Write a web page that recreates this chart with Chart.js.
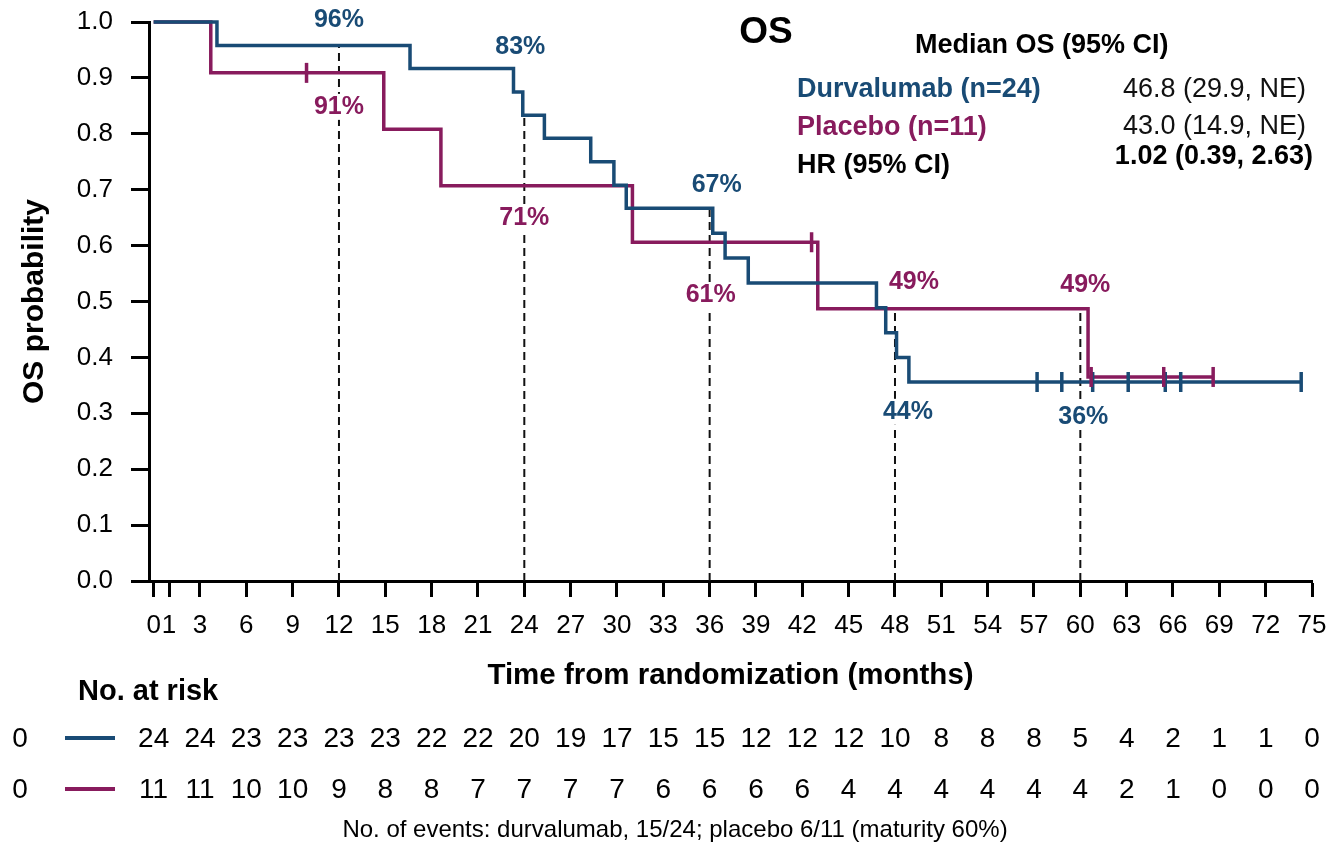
<!DOCTYPE html>
<html>
<head>
<meta charset="utf-8">
<title>OS</title>
<script src="https://cdn.jsdelivr.net/npm/chart.js@4.4.1/dist/chart.umd.min.js"></script>
<style>
  html, body { margin: 0; padding: 0; background: #ffffff; }
  #wrap { width: 1332px; height: 844px; position: relative; }
  canvas { display: block; }
</style>
</head>
<body>
<div id="wrap"><canvas id="km" width="1332" height="844"></canvas></div>
<script>
// Kaplan-Meier step data (time in months, survival after each event)
const durvaTimes    = [0, 4.1, 16.6, 23.3, 23.9, 25.3, 28.3, 29.8, 30.6, 36.2, 37.0, 38.5, 46.8, 47.4, 48.1, 48.9, 74.3];
const durvaSurvival = [1, 0.958, 0.917, 0.875, 0.833, 0.792, 0.750, 0.708, 0.667, 0.622, 0.578, 0.533, 0.489, 0.444, 0.400, 0.356, 0.356];
const durvaCensored = [57.2, 58.8, 60.8, 63.1, 65.5, 66.5, 74.3];

const placeboTimes    = [0, 3.7, 14.9, 18.6, 31.0, 43.0, 60.5, 68.6];
const placeboSurvival = [1, 0.909, 0.808, 0.707, 0.606, 0.487, 0.365, 0.365];
const placeboCensored = [9.9, 42.6, 60.7, 65.4, 68.6];

// Landmark time points marked with dashed lines
const landmarkTimes = [12, 24, 36, 48, 60];

// Axis ticks
const xTickValues = [0, 1, 3, 6, 9, 12, 15, 18, 21, 24, 27, 30, 33, 36, 39, 42, 45, 48, 51, 54, 57, 60, 63, 66, 69, 72, 75];
const yTickValues = [0, 0.1, 0.2, 0.3, 0.4, 0.5, 0.6, 0.7, 0.8, 0.9, 1.0];

// Number at risk table
const riskTimes      = [0, 3, 6, 9, 12, 15, 18, 21, 24, 27, 30, 33, 36, 39, 42, 45, 48, 51, 54, 57, 60, 63, 66, 69, 72, 75];
const durvaAtRisk    = [24, 24, 23, 23, 23, 23, 22, 22, 20, 19, 17, 15, 15, 12, 12, 12, 10, 8, 8, 8, 5, 4, 2, 1, 1, 0];
const placeboAtRisk  = [11, 11, 10, 10, 9, 8, 8, 7, 7, 7, 7, 6, 6, 6, 6, 4, 4, 4, 4, 4, 4, 2, 1, 0, 0, 0];

// Summary statistics
const groupNames   = ['Durvalumab (n=24)', 'Placebo (n=11)'];
const medianOS     = ['46.8 (29.9, NE)', '43.0 (14.9, NE)'];
const hazardRatio  = '1.02 (0.39, 2.63)';
const eventsNote   = 'No. of events: durvalumab, 15/24; placebo 6/11 (maturity 60%)';

// ---- styling ----
const FONT = "'Liberation Sans', Arial, Helvetica, sans-serif";
const BLUE = '#194b75';
const PURPLE = '#881b5d';

// label placement around the curves at each landmark (pixels)
const durvaLabelOffsets   = [{dx: 0, dy: -25, mask: false}, {dx: -4, dy: -68, mask: false}, {dx: 7, dy: -23, mask: false}, {dx: 13, dy: 79, mask: true}, {dx: 3, dy: 35, mask: true}];
const placeboLabelOffsets = [{dx: 0, dy: 34, mask: true}, {dx: 0, dy: 32, mask: true}, {dx: 1, dy: 53, mask: true}, {dx: 19, dy: -27, mask: false}, {dx: 5, dy: -24, mask: false}];

function survivalAt(times, surv, t) {
  let s = surv[0];
  for (let i = 0; i < times.length; i++) {
    if (times[i] <= t) s = surv[i];
  }
  return s;
}

function curvePoints(times, surv) {
  return times.map((t, i) => ({x: t, y: surv[i]}));
}

function censorPoints(cens, times, surv) {
  return cens.map(t => ({x: t, y: survivalAt(times, surv, t)}));
}

const dashedSets = landmarkTimes.map(t => ({
  data: [{x: t, y: 0}, {x: t, y: Math.max(survivalAt(durvaTimes, durvaSurvival, t), survivalAt(placeboTimes, placeboSurvival, t))}],
  showLine: true,
  borderColor: '#111111',
  borderWidth: 2,
  borderDash: [8, 5],
  pointRadius: 0,
  order: 10
}));

const kmAnnotations = {
  id: 'kmAnnotations',
  afterDatasetsDraw(chart) {
    const ctx = chart.ctx;
    const xs = chart.scales.x, ys = chart.scales.y;
    ctx.save();
    ctx.font = `bold 25px ${FONT}`;
    ctx.textAlign = 'center';
    ctx.textBaseline = 'middle';
    const groups = [
      {times: durvaTimes, surv: durvaSurvival, offs: durvaLabelOffsets, color: BLUE},
      {times: placeboTimes, surv: placeboSurvival, offs: placeboLabelOffsets, color: PURPLE}
    ];
    groups.forEach(g => {
      landmarkTimes.forEach((t, i) => {
        const s = survivalAt(g.times, g.surv, t);
        const txt = Math.round(s * 100) + '%';
        const px = xs.getPixelForValue(t) + g.offs[i].dx;
        const py = ys.getPixelForValue(s) + g.offs[i].dy;
        if (g.offs[i].mask) {
          const w = ctx.measureText(txt).width;
          ctx.fillStyle = '#ffffff';
          ctx.fillRect(px - w / 2 - 2, py - 13, w + 4, 26);
        }
        ctx.fillStyle = g.color;
        ctx.fillText(txt, px, py);
      });
    });
    ctx.restore();
  },
  afterDraw(chart) {
    const ctx = chart.ctx;
    const xs = chart.scales.x;
    ctx.save();
    ctx.textBaseline = 'middle';

    // title
    ctx.fillStyle = '#000';
    ctx.font = `bold 37px ${FONT}`;
    ctx.textAlign = 'center';
    ctx.fillText('OS', 766, 33);

    // median / HR block
    ctx.font = `bold 27px ${FONT}`;
    ctx.textAlign = 'left';
    ctx.fillText('Median OS (95% CI)', 915, 46);
    ctx.fillStyle = BLUE;
    ctx.fillText(groupNames[0], 797, 90);
    ctx.fillStyle = PURPLE;
    ctx.fillText(groupNames[1], 797, 128);
    ctx.fillStyle = '#000';
    ctx.fillText('HR (95% CI)', 797, 166);

    ctx.textAlign = 'right';
    ctx.font = `27px ${FONT}`;
    ctx.fillStyle = '#111';
    ctx.fillText(medianOS[0], 1306, 90);
    ctx.fillText(medianOS[1], 1306, 127);
    ctx.font = `bold 27px ${FONT}`;
    ctx.fillStyle = '#000';
    ctx.fillText(hazardRatio, 1313, 157);

    // number at risk
    ctx.textAlign = 'left';
    ctx.font = `bold 29px ${FONT}`;
    ctx.fillText('No. at risk', 78, 692);

    const rows = [
      {values: durvaAtRisk, color: BLUE, y: 739},
      {values: placeboAtRisk, color: PURPLE, y: 790}
    ];
    rows.forEach(r => {
      ctx.font = `28px ${FONT}`;
      ctx.fillStyle = '#000';
      ctx.textAlign = 'center';
      ctx.fillText('0', 20, r.y);
      ctx.strokeStyle = r.color;
      ctx.lineWidth = 4;
      ctx.beginPath();
      ctx.moveTo(65, r.y - 1);
      ctx.lineTo(115, r.y - 1);
      ctx.stroke();
      riskTimes.forEach((t, i) => {
        ctx.fillText(String(r.values[i]), xs.getPixelForValue(t), r.y);
      });
    });

    ctx.font = `24px ${FONT}`;
    ctx.textAlign = 'center';
    ctx.fillText(eventsNote, 675, 830);
    ctx.restore();
  }
};

const chart = new Chart(document.getElementById('km'), {
  type: 'scatter',
  data: {
    datasets: [
      ...dashedSets,
      {
        label: 'Placebo',
        data: curvePoints(placeboTimes, placeboSurvival),
        showLine: true, stepped: 'before',
        borderColor: PURPLE, borderWidth: 3.5, pointRadius: 0,
        clip: 8, order: 2
      },
      {
        label: 'Durvalumab',
        data: curvePoints(durvaTimes, durvaSurvival),
        showLine: true, stepped: 'before',
        borderColor: BLUE, borderWidth: 3.5, pointRadius: 0,
        clip: 8, order: 1
      },
      {
        label: 'Placebo censored',
        data: censorPoints(placeboCensored, placeboTimes, placeboSurvival),
        showLine: false, pointStyle: 'line', pointRotation: 90, pointRadius: 10,
        pointBorderColor: PURPLE, pointBorderWidth: 3.5, pointBackgroundColor: PURPLE,
        clip: 12, order: 0
      },
      {
        label: 'Durvalumab censored',
        data: censorPoints(durvaCensored, durvaTimes, durvaSurvival),
        showLine: false, pointStyle: 'line', pointRotation: 90, pointRadius: 10,
        pointBorderColor: BLUE, pointBorderWidth: 3.5, pointBackgroundColor: BLUE,
        clip: 12, order: 0
      }
    ]
  },
  options: {
    responsive: false,
    animation: false,
    devicePixelRatio: 1,
    layout: { padding: { left: 0, right: 20, top: 22, bottom: 148 } },
    plugins: { legend: { display: false }, tooltip: { enabled: false } },
    scales: {
      x: {
        type: 'linear', min: -0.3, max: 75,
        afterBuildTicks: s => { s.ticks = xTickValues.map(v => ({value: v})); },
        afterFit: s => { s.height = 115; s.paddingLeft = 0; s.paddingRight = 0; },
        grid: { drawOnChartArea: false, drawTicks: true, tickLength: 16, tickWidth: 3, tickColor: '#000' },
        border: { display: true, color: '#000', width: 3 },
        ticks: { color: '#000', font: { family: FONT, size: 26 }, padding: 13, maxRotation: 0, minRotation: 0, autoSkip: false, callback: v => String(v) },
        title: { display: true, text: 'Time from randomization (months)', color: '#000', font: { family: FONT, size: 29.5, weight: 'bold' }, padding: { top: 0, bottom: 2 } }
      },
      y: {
        type: 'linear', min: 0, max: 1,
        afterBuildTicks: s => { s.ticks = yTickValues.map(v => ({value: v})); },
        afterFit: s => { s.width = 149; s.paddingTop = 0; s.paddingBottom = 0; },
        grid: { drawOnChartArea: false, drawTicks: true, tickLength: 18, tickWidth: 3, tickColor: '#000' },
        border: { display: true, color: '#000', width: 3 },
        ticks: { color: '#000', font: { family: FONT, size: 26 }, padding: 18, callback: v => Number(v).toFixed(1) },
        title: { display: true, text: 'OS probability', color: '#000', font: { family: FONT, size: 30, weight: 'bold' }, padding: { top: 17, bottom: 0 } }
      }
    }
  },
  plugins: [kmAnnotations]
});
</script>
</body>
</html>
